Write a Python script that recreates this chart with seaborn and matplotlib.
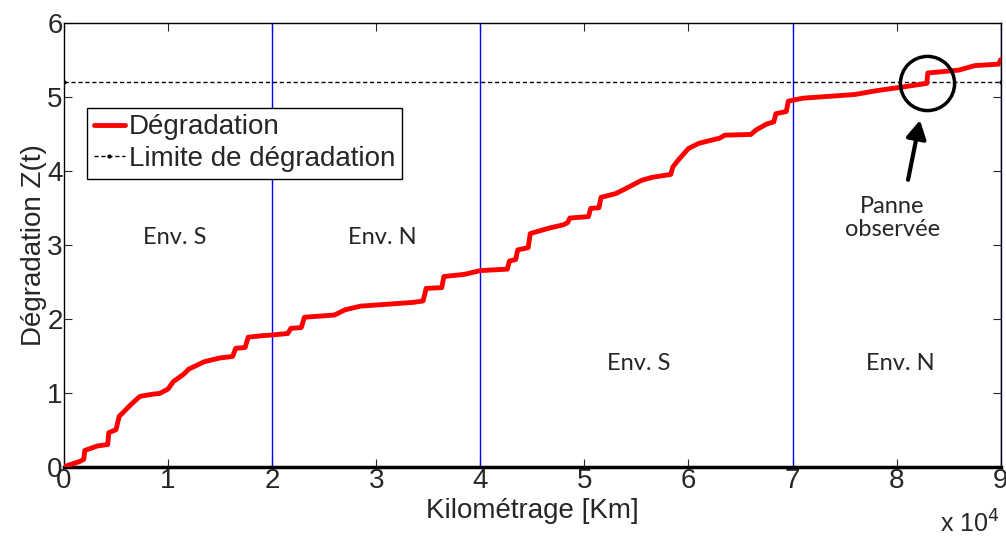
import matplotlib
matplotlib.use("Agg")
import numpy as np
import pandas as pd
import matplotlib.pyplot as plt
import seaborn as sns
from matplotlib import font_manager

# degradation path (km, Z)
km = [0, 1500, 1900, 2000, 3200, 4200, 4300, 5000, 5300, 5800, 6500, 7300,
      8500, 9200, 10000, 10500, 11500, 12000, 13500, 15000, 16200, 16500,
      17400, 17700, 19000, 20000, 21500, 21800, 22800, 23100, 26000, 27000,
      28500, 33500, 34500, 34800, 36300, 36500, 38500, 40000, 42600, 42800,
      43400, 43600, 44600, 44800, 46500, 48000, 48400, 48600, 50400, 50600,
      51400, 51600, 53000, 54000, 55500, 56500, 58300, 58500, 59000, 60000,
      61000, 63000, 63500, 66000, 66500, 67500, 68200, 68400, 69400, 69600,
      71000, 76000, 78000, 81000, 82900, 83000, 86000, 87500, 89800, 90000]
z = [0.0, 0.07, 0.10, 0.22, 0.28, 0.30, 0.46, 0.50, 0.68, 0.75, 0.85, 0.95,
     0.98, 0.99, 1.05, 1.15, 1.25, 1.32, 1.42, 1.47, 1.49, 1.60,
     1.61, 1.75, 1.77, 1.78, 1.80, 1.87, 1.88, 2.02, 2.05, 2.12,
     2.17, 2.22, 2.24, 2.41, 2.42, 2.57, 2.60, 2.65, 2.67, 2.78,
     2.80, 2.93, 2.96, 3.15, 3.22, 3.27, 3.30, 3.36, 3.38, 3.49,
     3.50, 3.64, 3.69, 3.76, 3.87, 3.91, 3.95, 4.05, 4.14, 4.30,
     4.37, 4.44, 4.48, 4.49, 4.55, 4.63, 4.66, 4.77, 4.80, 4.94,
     4.98, 5.03, 5.08, 5.14, 5.18, 5.32, 5.36, 5.42, 5.44, 5.50]

limit = 5.2
env_bounds = [20000, 40000, 70000, 90000]
env_labels = ["Env. S", "Env. N", "Env. S", "Env. N"]
env_x = [10670, 30580, 55190, 80380]
env_y = [3.10, 3.10, 1.40, 1.40]
xtick_vals = [0, 10000, 20000, 30000, 40000, 50000, 60000, 70000, 80000, 90000]
xtick_labels = ["0", "1", "2", "3", "4", "5", "6", "7", "8", "9"]

sns.set_theme(style="ticks")
names = {f.name for f in font_manager.fontManager.ttflist}
narrow = "Liberation Sans Narrow" if "Liberation Sans Narrow" in names else "Liberation Sans"
plt.rcParams["font.family"] = [narrow, "DejaVu Sans"]
fs = 24 if narrow.endswith("Narrow") else 20

df = pd.DataFrame({"km": km, "z": z})

fig = plt.figure(figsize=(10.06, 5.38), dpi=100)
ax = fig.add_axes([0.0636, 0.1325, 0.9311, 0.8253])

for b in env_bounds:
    ax.axvline(b, color="#0000ff", lw=1.0, zorder=1)

sns.lineplot(data=df, x="km", y="z", sort=False, color="#ff0000", lw=3.5,
             ax=ax, label="Dégradation", zorder=3)
ax.plot([0, 90000], [limit, limit], color="black", lw=1.0, ls=(0, (3, 2)),
        marker=".", markersize=4, label="Limite de dégradation", zorder=2)

calib = "Lato"
for lab, x, y in zip(env_labels, env_x, env_y):
    ax.text(x, y, lab, ha="center", va="center", fontsize=17, family=calib)

# observed failure marker
ax.plot([82950], [5.18], "o", ms=39, mfc="none", mec="black", mew=2.5,
        zorder=4)
ax.annotate("", xy=(82300, 4.72), xytext=(81050, 3.84),
            arrowprops=dict(arrowstyle="-|>,head_length=0.9,head_width=0.5",
                            color="black", lw=3))
ax.text(79600, 3.36, "Panne\nobservée", ha="center", va="center",
        fontsize=17, family=calib, linespacing=1.1)

ax.set_xlim(0, 90000)
ax.set_ylim(0, 6)
ax.set_xticks(xtick_vals)
ax.set_xticklabels(xtick_labels)
ax.set_yticks(range(7))
ax.tick_params(direction="in", top=True, right=True, labelsize=fs,
               length=6, width=0.8, pad=1)
for s in ax.spines.values():
    s.set_color("black")
    s.set_linewidth(1.0)
ax.spines["bottom"].set_linewidth(2.5)

ax.set_xlabel("Kilométrage [Km]", fontsize=fs, labelpad=3)
ax.set_ylabel("Dégradation Z(t)", fontsize=fs, labelpad=0)
fig.text(0.994, 0.0, "x 10$^{4}$", ha="right", va="bottom", fontsize=fs - 2)

leg = ax.legend(loc="upper left", bbox_to_anchor=(0.0246, 0.809),
                borderaxespad=0, fontsize=fs, handlelength=1.1,
                handletextpad=0.15, labelspacing=0.2, borderpad=0.25,
                fancybox=False, framealpha=1)
leg.get_frame().set_edgecolor("black")
leg.get_frame().set_linewidth(1.0)

fig.savefig("out.png", dpi=100)
